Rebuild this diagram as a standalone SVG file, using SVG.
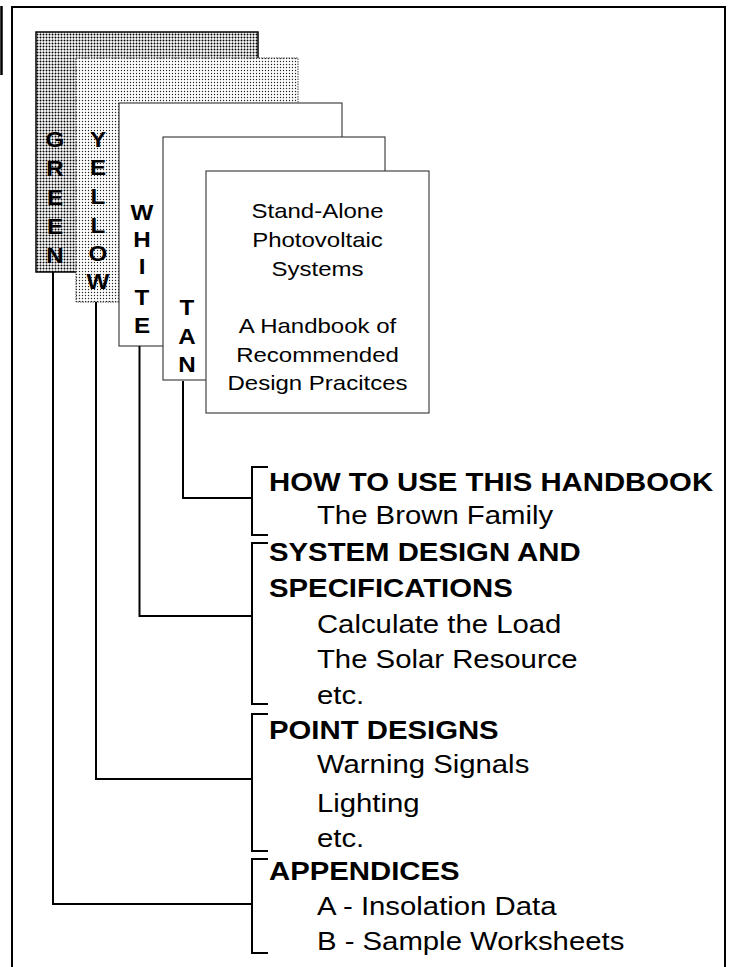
<svg xmlns="http://www.w3.org/2000/svg" width="729" height="967" viewBox="0 0 729 967">
<style>
.frame{fill:none;stroke:#000;stroke-width:2}
.pg{stroke:#333;stroke-width:1.1}
.lbl{font-family:"Liberation Sans",Arial,sans-serif;font-weight:bold;font-size:22px;fill:#000;text-anchor:middle}
.cov{font-family:"Liberation Sans",Arial,sans-serif;font-size:20px;fill:#000;text-anchor:middle}
.hd{font-family:"Liberation Sans",Arial,sans-serif;font-weight:bold;font-size:25.5px;fill:#000}
.it{font-family:"Liberation Sans",Arial,sans-serif;font-size:25.5px;fill:#000}
.br{fill:none;stroke:#000;stroke-width:2}
.cn{fill:none;stroke:#000;stroke-width:2}
</style>
<defs>
<pattern id="dk" width="3" height="3" patternUnits="userSpaceOnUse"><rect width="3" height="3" fill="#fff"/><circle cx="1.5" cy="1.5" r="1.0" fill="#000"/></pattern>
<pattern id="lt" width="3" height="3" patternUnits="userSpaceOnUse"><rect width="3" height="3" fill="#fff"/><circle cx="1.5" cy="1.5" r="0.7" fill="#222"/></pattern>
</defs>
<rect width="729" height="967" fill="#fff"/>
<g id="frame">
<line x1="1.5" y1="6" x2="1.5" y2="75" stroke="#000" stroke-width="2.5"/>
<path class="frame" d="M12,975 V7 H725 V975"/>
</g>
<g id="page-green">
<rect x="36" y="32" width="222" height="240" fill="url(#dk)" stroke="#000" stroke-width="1.5"/>
<g transform="matrix(1.1,0,0,1,55,0)"><text class="lbl"><tspan x="0" y="147">G</tspan><tspan x="0" y="176">R</tspan><tspan x="0" y="205">E</tspan><tspan x="0" y="234">E</tspan><tspan x="0" y="263">N</tspan></text></g>
</g>
<g id="page-yellow">
<rect x="76" y="58" width="222" height="244" fill="url(#lt)" stroke="#444" stroke-width="1" stroke-dasharray="1.5,1"/>
<g transform="matrix(1.1,0,0,1,98,0)"><text class="lbl"><tspan x="0" y="147">Y</tspan><tspan x="0" y="175">E</tspan><tspan x="0" y="204">L</tspan><tspan x="0" y="233">L</tspan><tspan x="0" y="261">O</tspan><tspan x="0" y="289">W</tspan></text></g>
</g>
<g id="page-white">
<rect class="pg" x="119" y="103" width="223" height="243" fill="#fff"/>
<g transform="matrix(1.1,0,0,1,142,0)"><text class="lbl"><tspan x="0" y="220">W</tspan><tspan x="0" y="247">H</tspan><tspan x="0" y="274">I</tspan><tspan x="0" y="305">T</tspan><tspan x="0" y="333">E</tspan></text></g>
</g>
<g id="page-tan">
<rect class="pg" x="163" y="137" width="222" height="243" fill="#fff"/>
<g transform="matrix(1.1,0,0,1,187,0)"><text class="lbl"><tspan x="0" y="315">T</tspan><tspan x="0" y="344">A</tspan><tspan x="0" y="372">N</tspan></text></g>
</g>
<g id="page-cover">
<rect class="pg" x="206" y="171" width="223" height="242" fill="#fff"/>
<g transform="matrix(1.2,0,0,1,317.5,0)"><text class="cov"><tspan x="0" y="218">Stand-Alone</tspan><tspan x="0" y="247">Photovoltaic</tspan><tspan x="0" y="276">Systems</tspan><tspan x="0" y="333">A Handbook of</tspan><tspan x="0" y="362">Recommended</tspan><tspan x="0" y="390">Design Pracitces</tspan></text></g>
</g>
<g id="connectors">
<path class="cn" d="M183,381 V498 H252"/>
<path class="cn" d="M139.5,346 V616 H252"/>
<path class="cn" d="M96,302 V779 H252"/>
<path class="cn" d="M53,272 V904 H252"/>
</g>
<g id="sec-howto">
<path class="br" d="M268,467 H252 V535 H268"/>
<g transform="matrix(1.15,0,0,1,269,0)"><text class="hd" x="0" y="491">HOW TO USE THIS HANDBOOK</text><text class="it" x="41.7" y="524">The Brown Family</text></g>
</g>
<g id="sec-system">
<path class="br" d="M268,543 H252 V704 H268"/>
<g transform="matrix(1.15,0,0,1,269,0)"><text class="hd" x="0" y="561">SYSTEM DESIGN AND</text><text class="hd" x="0" y="597">SPECIFICATIONS</text><text class="it" x="41.7" y="633">Calculate the Load</text><text class="it" x="41.7" y="668">The Solar Resource</text><text class="it" x="41.7" y="704">etc.</text></g>
</g>
<g id="sec-point">
<path class="br" d="M268,714 H252 V851 H268"/>
<g transform="matrix(1.15,0,0,1,269,0)"><text class="hd" x="0" y="739">POINT DESIGNS</text><text class="it" x="41.7" y="773">Warning Signals</text><text class="it" x="41.7" y="812">Lighting</text><text class="it" x="41.7" y="847">etc.</text></g>
</g>
<g id="sec-appendices">
<path class="br" d="M268,859 H252 V953 H268"/>
<g transform="matrix(1.15,0,0,1,269,0)"><text class="hd" x="0" y="880">APPENDICES</text><text class="it" x="41.7" y="915">A - Insolation Data</text><text class="it" x="41.7" y="950">B - Sample Worksheets</text></g>
</g>
</svg>
